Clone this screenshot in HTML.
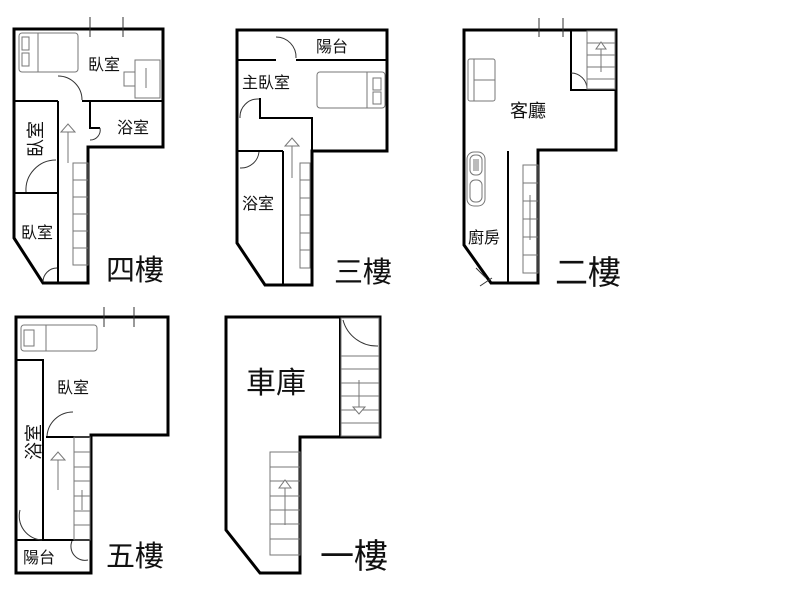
<!DOCTYPE html>
<html><head><meta charset="utf-8"><style>
html,body{margin:0;padding:0;background:#fff;width:800px;height:600px;overflow:hidden}
text{font-family:"Liberation Sans","Noto Sans CJK TC",sans-serif;fill:#111}
</style></head><body>
<svg width="800" height="600" viewBox="0 0 800 600" xmlns="http://www.w3.org/2000/svg">
<g fill="none" stroke="#000" stroke-width="3" stroke-linejoin="miter">
<polygon points="14,29 163,29 163,147 88,147 88,283 43,283 14,238"/>
<polygon points="237,30 387,30 387,151 312,151 312,285 265,285 237,243"/>
<polygon points="464,30 616,30 616,150 538,150 538,283 491,283 464,245"/>
<polygon points="16,317 168,317 168,435 91,435 91,573 16,573"/>
<polygon points="226,317 380,317 380,437 300,437 300,573 260,573 226,530"/>
</g>
<g fill="none" stroke="#000" stroke-width="2">
<line x1="14" y1="101" x2="58" y2="101"/><line x1="82" y1="101" x2="163" y2="101"/>
<line x1="58" y1="101" x2="58" y2="283"/>
<line x1="14" y1="193" x2="58" y2="193"/>
<polyline points="90,101 90,128 100,128"/>
<line x1="88" y1="147" x2="163" y2="147"/>
<line x1="237" y1="60" x2="276" y2="60"/><line x1="296" y1="60" x2="387" y2="60"/>
<polyline points="260,98 260,118 312,118 312,151"/>
<line x1="237" y1="151" x2="283" y2="151"/>
<line x1="283" y1="151" x2="283" y2="285"/>
<polyline points="571,30 571,90 616,90"/>
<line x1="508" y1="151" x2="508" y2="283"/>
<polyline points="16,360 43,360 43,540"/>
<line x1="16" y1="540" x2="91" y2="540"/>
<line x1="46" y1="437" x2="91" y2="437"/>
<polyline points="340,317 340,437"/>
</g>
<g fill="none" stroke="#333" stroke-width="1">
<path d="M58,76 A24,24 0 0 1 82,100"/>
<path d="M100,128 A10,10 0 0 1 90,140"/>
<path d="M26,192 A30,30 0 0 1 56,160"/>
<path d="M43,282 A14,14 0 0 1 57,268"/>
<path d="M276,37 A20,20 0 0 1 296,58"/>
<path d="M259,99 A18,18 0 0 0 240,118"/>
<path d="M259,152 A18,18 0 0 1 240,168"/>
<path d="M571,73 A16,16 0 0 1 587,89"/>
<path d="M47,436 A26,26 0 0 1 73,412"/>
<path d="M20,510 A24,24 0 0 0 42,540"/>
<path d="M72,541 A14,14 0 0 0 88,560"/>
<path d="M343,320 A35,35 0 0 0 378,346"/>
<line x1="90" y1="17" x2="90" y2="37"/><line x1="123" y1="17" x2="123" y2="37"/>
<line x1="539" y1="18" x2="539" y2="37"/><line x1="563" y1="18" x2="563" y2="37"/>
<line x1="104" y1="307" x2="104" y2="327"/><line x1="134" y1="307" x2="134" y2="327"/>
<line x1="476" y1="268" x2="486" y2="278"/><line x1="480" y1="286" x2="492" y2="278"/>
</g>
<g fill="none" stroke="#777" stroke-width="1">
<rect x="73" y="163" width="15" height="102"/>
<line x1="73" y1="180" x2="88" y2="180"/><line x1="73" y1="197" x2="88" y2="197"/><line x1="73" y1="214" x2="88" y2="214"/><line x1="73" y1="231" x2="88" y2="231"/><line x1="73" y1="248" x2="88" y2="248"/>
<rect x="300" y="163" width="10" height="105"/>
<line x1="300" y1="180" x2="310" y2="180"/><line x1="300" y1="198" x2="310" y2="198"/><line x1="300" y1="215" x2="310" y2="215"/><line x1="300" y1="233" x2="310" y2="233"/><line x1="300" y1="250" x2="310" y2="250"/>
<rect x="523" y="165" width="15" height="108"/>
<line x1="523" y1="183" x2="538" y2="183"/><line x1="523" y1="201" x2="538" y2="201"/><line x1="523" y1="219" x2="538" y2="219"/><line x1="523" y1="237" x2="538" y2="237"/><line x1="523" y1="255" x2="538" y2="255"/>
<rect x="587" y="31" width="28" height="58"/>
<line x1="587" y1="43" x2="615" y2="43"/><line x1="587" y1="55" x2="615" y2="55"/><line x1="587" y1="67" x2="615" y2="67"/><line x1="587" y1="79" x2="615" y2="79"/>
<rect x="74" y="437" width="16" height="103"/>
<line x1="74" y1="452" x2="90" y2="452"/><line x1="74" y1="467" x2="90" y2="467"/><line x1="74" y1="481" x2="90" y2="481"/><line x1="74" y1="496" x2="90" y2="496"/><line x1="74" y1="511" x2="90" y2="511"/><line x1="74" y1="525" x2="90" y2="525"/>
<rect x="341" y="318" width="38" height="118"/>
<line x1="341" y1="356" x2="379" y2="356"/><line x1="341" y1="369" x2="379" y2="369"/><line x1="341" y1="383" x2="379" y2="383"/><line x1="341" y1="396" x2="379" y2="396"/><line x1="341" y1="410" x2="379" y2="410"/><line x1="341" y1="423" x2="379" y2="423"/>
<rect x="270" y="452" width="30" height="103"/>
<line x1="270" y1="467" x2="300" y2="467"/><line x1="270" y1="481" x2="300" y2="481"/><line x1="270" y1="496" x2="300" y2="496"/><line x1="270" y1="510" x2="300" y2="510"/><line x1="270" y1="524" x2="300" y2="524"/><line x1="270" y1="539" x2="300" y2="539"/>
<line x1="68" y1="132" x2="68" y2="163"/><polygon points="61,132 75,132 68,124" fill="#fff"/>
<line x1="292" y1="146" x2="292" y2="178"/><polygon points="285,146 299,146 292,138" fill="#fff"/>
<line x1="601" y1="45" x2="601" y2="72"/><polygon points="596,49 606,49 601,42" fill="#fff"/>
<line x1="530" y1="195" x2="530" y2="240"/>
<line x1="58" y1="460" x2="58" y2="490"/><polygon points="51,460 65,460 58,452" fill="#fff"/>
<line x1="82" y1="490" x2="82" y2="510"/>
<line x1="359" y1="380" x2="359" y2="412"/><polygon points="353,407 365,407 359,414" fill="#fff"/>
<line x1="285" y1="485" x2="285" y2="525"/><polygon points="279,488 291,488 285,480" fill="#fff"/>
<rect x="19" y="33" width="59" height="39" rx="3"/><line x1="38" y1="33" x2="38" y2="72"/>
<rect x="22" y="37" width="7" height="13"/><rect x="22" y="53" width="7" height="13"/>
<rect x="135" y="60" width="25" height="38"/><rect x="124" y="72" width="11" height="14"/><line x1="146" y1="68" x2="146" y2="88"/>
<rect x="317" y="72" width="68" height="36" rx="3"/><line x1="367" y1="72" x2="367" y2="108"/>
<rect x="373" y="78" width="8" height="12"/><rect x="373" y="92" width="8" height="12"/>
<rect x="468" y="59" width="27" height="42" rx="2"/><line x1="474" y1="59" x2="474" y2="101"/><line x1="474" y1="80" x2="495" y2="80"/>
<rect x="467" y="152" width="18" height="54" rx="7"/><rect x="470" y="155" width="12" height="20" rx="5"/><rect x="470" y="180" width="12" height="22" rx="5"/>
<line x1="474" y1="159" x2="474" y2="171"/><line x1="476" y1="159" x2="476" y2="171"/><line x1="478" y1="159" x2="478" y2="171"/>
<rect x="21" y="325" width="76" height="26" rx="3"/><line x1="46" y1="325" x2="46" y2="351"/><rect x="24" y="330" width="10" height="16"/>
</g>
<text x="88" y="70" font-size="16">臥室</text>
<text x="117" y="133" font-size="16">浴室</text>
<text x="0" y="0" font-size="18" transform="translate(42,157) rotate(-90)">臥室</text>
<text x="21" y="238" font-size="16">臥室</text>
<text x="106" y="280" font-size="29">四樓</text>
<text x="316" y="52" font-size="16">陽台</text>
<text x="242" y="88" font-size="16">主臥室</text>
<text x="242" y="209" font-size="16">浴室</text>
<text x="334" y="282" font-size="29">三樓</text>
<text x="510" y="117" font-size="18">客廳</text>
<text x="468" y="243" font-size="16">廚房</text>
<text x="555" y="284" font-size="33">二樓</text>
<text x="57" y="393" font-size="16">臥室</text>
<text x="0" y="0" font-size="18" transform="translate(40,460) rotate(-90)">浴室</text>
<text x="23" y="563" font-size="16">陽台</text>
<text x="106" y="566" font-size="29">五樓</text>
<text x="246" y="393" font-size="30">車庫</text>
<text x="320" y="568" font-size="34">一樓</text>
</svg>
</body></html>
